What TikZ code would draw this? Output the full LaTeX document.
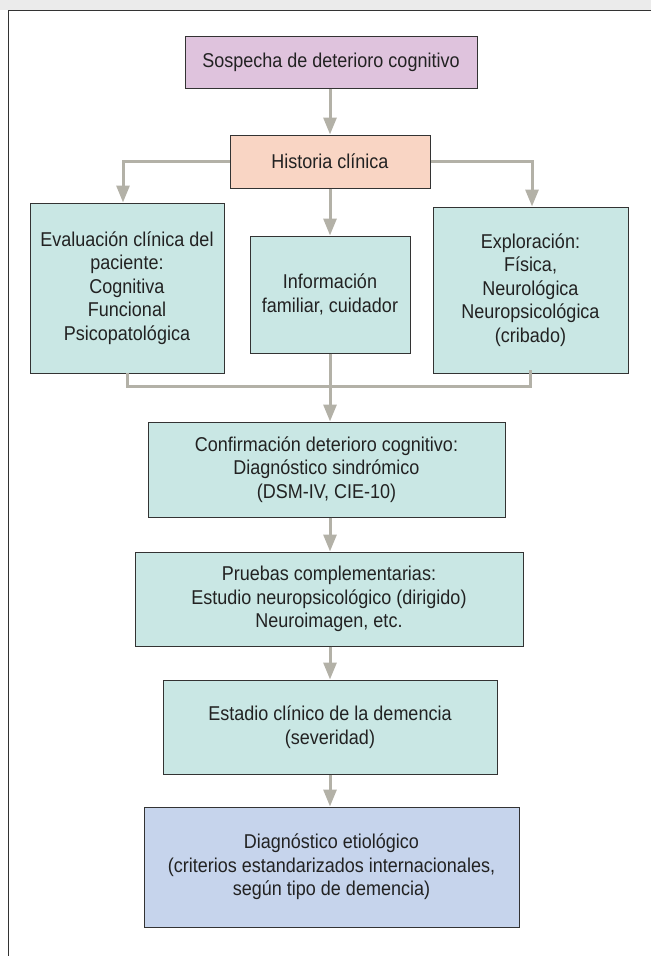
\documentclass[tikz,border=0pt]{standalone}
\usepackage{fontspec}
\setmainfont{Liberation Sans}[FakeStretch=0.9]
\usetikzlibrary{arrows.meta}
\definecolor{lila}{HTML}{DFC3DD}
\definecolor{melocoton}{HTML}{F9D5C4}
\definecolor{aguamarina}{HTML}{C9E7E4}
\definecolor{azulado}{HTML}{C6D4EC}
\definecolor{gris}{HTML}{B3B1A7}
\definecolor{franja}{HTML}{EBEBEB}
\definecolor{borde}{HTML}{333333}
\definecolor{texto}{HTML}{222222}
\tikzset{
    caja/.style={draw=borde, line width=1pt, align=center, inner sep=0pt, text=texto,
        font=\fontsize{20}{23.5}\selectfont},
    flecha/.style={draw=gris, line width=3pt, -{Triangle[width=13pt,length=17pt]}},
    corchete/.style={draw=gris, line width=3pt}
}
\begin{document}
\begin{tikzpicture}[x=1pt, y=-1pt]
    \useasboundingbox (0,0) rectangle (651,956);
    \fill[franja] (0,0) rectangle (651,10);
    \draw[borde, line width=1pt] (651,10) -- (8,10) -- (8,956);

    \node[caja, fill=lila, minimum width=292pt, minimum height=52pt] (sospecha) at (331,62) {Sospecha de deterioro cognitivo};
    \node[caja, fill=melocoton, minimum width=200pt, minimum height=53pt] (historia) at (330,161.5) {Historia clínica};
    \node[caja, fill=aguamarina, minimum width=194pt, minimum height=170pt] (evaluacion) at (127,288) {Evaluación clínica del\\paciente:\\Cognitiva\\Funcional\\Psicopatológica};
    \node[caja, fill=aguamarina, minimum width=160pt, minimum height=117pt] (informacion) at (330,294.5) {Información\\familiar, cuidador};
    \node[caja, fill=aguamarina, minimum width=195pt, minimum height=166pt] (exploracion) at (530.5,290) {Exploración:\\Física,\\Neurológica\\Neuropsicológica\\(cribado)};
    \node[caja, fill=aguamarina, minimum width=357pt, minimum height=95pt] (confirmacion) at (326.5,469.5) {Confirmación deterioro cognitivo:\\Diagnóstico sindrómico\\(DSM-IV, CIE-10)};
    \node[caja, fill=aguamarina, minimum width=388pt, minimum height=94pt] (pruebas) at (329,599) {Pruebas complementarias:\\Estudio neuropsicológico (dirigido)\\Neuroimagen, etc.};
    \node[caja, fill=aguamarina, minimum width=334pt, minimum height=94pt] (estadio) at (330,727) {Estadio clínico de la demencia\\(severidad)};
    \node[caja, fill=azulado, minimum width=375pt, minimum height=120pt] (diagnostico) at (331.5,867) {Diagnóstico etiológico\\(criterios estandarizados internacionales,\\según tipo de demencia)};

    \draw[flecha] ([xshift=-1pt]sospecha.south) -- ([xshift=-1pt]sospecha.south |- historia.north);
    \draw[flecha] (historia.west) -| ([xshift=-4pt]evaluacion.north);
    \draw[flecha] (historia.east) -| ([xshift=1.5pt]exploracion.north);
    \draw[flecha] (historia.south) -- (historia.south |- informacion.north);
    \draw[corchete] ([yshift=1pt]evaluacion.south) -- ++(0,14) -| ([yshift=4pt]exploracion.south);
    \draw[flecha] (informacion.south) -- (informacion.south |- confirmacion.north);
    \draw[flecha] (informacion.south |- confirmacion.south) -- (informacion.south |- pruebas.north);
    \draw[flecha] (estadio.north |- pruebas.south) -- (estadio.north);
    \draw[flecha] (estadio.south) -- (estadio.south |- diagnostico.north);
\end{tikzpicture}
\end{document}
